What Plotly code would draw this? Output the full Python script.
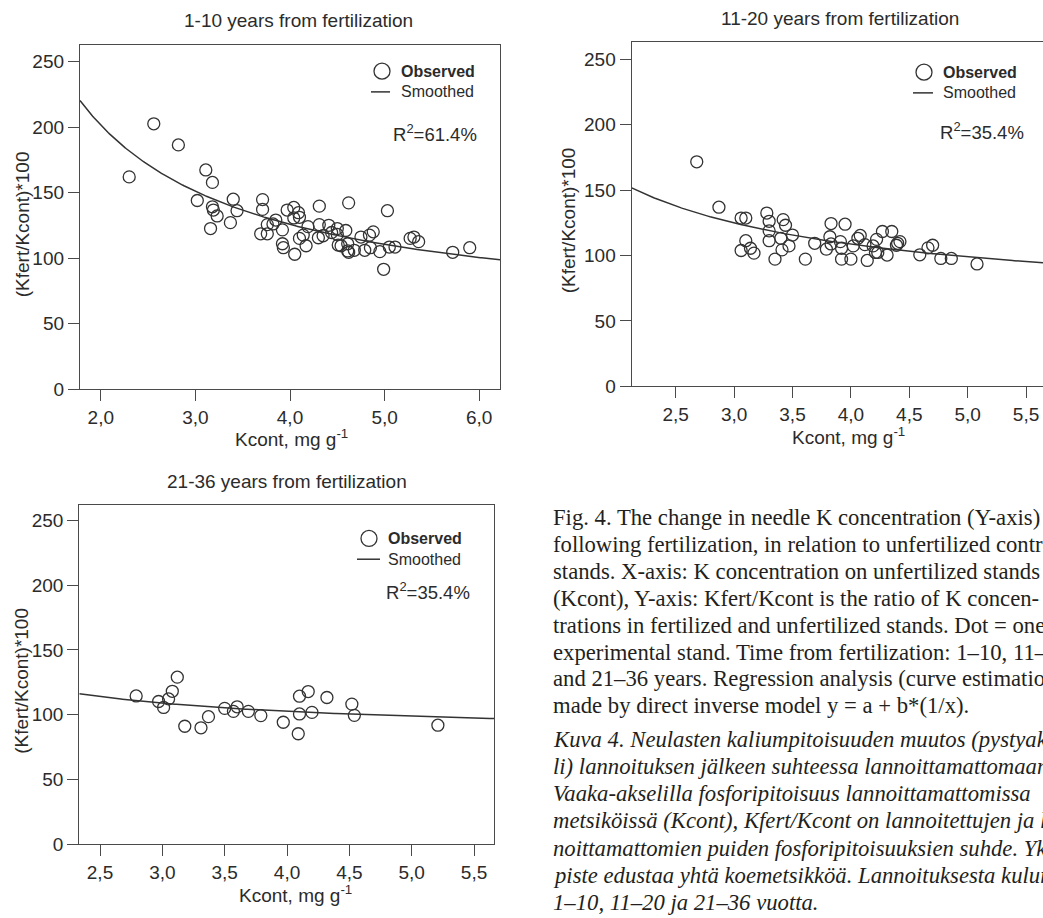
import numpy as np
import plotly.graph_objects as go

# ---------------- data ----------------
titles = ["1-10 years from fertilization", "11-20 years from fertilization", "21-36 years from fertilization"]
r2_labels = ["R<sup>2</sup>=61.4%", "R<sup>2</sup>=35.4%", "R<sup>2</sup>=35.4%"]

p1_x = [2.30, 2.56, 2.82, 3.11, 3.18, 3.02, 3.18, 3.19, 3.23, 3.16, 3.40, 3.44, 3.37,
        3.71, 3.71, 3.69, 3.76, 3.76, 3.85, 3.82, 3.92, 3.92, 3.93, 3.97, 4.04, 4.09,
        4.04, 4.10, 4.05, 4.19, 4.14, 4.10, 4.17, 4.31, 4.31, 4.30, 4.35, 4.41, 4.44,
        4.50, 4.50, 4.59, 4.62, 4.51, 4.54, 4.61, 4.61, 4.62, 4.68, 4.75, 4.79, 4.84,
        4.88, 4.85, 4.95, 4.99, 5.03, 5.05, 5.11, 5.27, 5.31, 5.36, 5.72, 5.90]
p1_y = [162, 202.5, 186.4, 167.3, 157.8, 144, 139.2, 136.7, 132.2, 122.6, 145, 136.2, 127.1,
        144.7, 137.2, 118.6, 125.6, 118.6, 129.1, 126.1, 121.6, 111, 108, 136.7, 138.7, 134.7,
        130.7, 131.2, 103, 124.1, 117.6, 115.1, 109.5, 139.7, 125.6, 115.6, 117.1, 125.1, 119.6,
        122.6, 118.1, 121.1, 142.2, 110, 109.5, 111, 105.5, 104.5, 106, 116.1, 106, 117.6,
        120.1, 108, 105, 91.5, 136.2, 108.5, 108.5, 115.1, 116.1, 112.6, 104.5, 108]

p2_x = [2.68, 2.87, 3.06, 3.10, 3.10, 3.06, 3.14, 3.17, 3.28, 3.30, 3.30, 3.30, 3.42,
        3.44, 3.40, 3.41, 3.47, 3.50, 3.35, 3.61, 3.69, 3.83, 3.95, 3.82, 3.79, 3.83,
        3.91, 3.92, 3.92, 4.00, 4.02, 4.06, 4.08, 4.12, 4.14, 4.19, 4.22, 4.21, 4.23,
        4.27, 4.35, 4.31, 4.39, 4.40, 4.42, 4.59, 4.66, 4.70, 4.77, 4.86, 5.08]
p2_y = [171.6, 136.9, 128.6, 128.6, 111.3, 103.8, 105.5, 101.8, 132.4, 126.1, 118.8, 111.3, 127.4,
        123.1, 113.1, 104.3, 107.3, 115.6, 97.2, 97.2, 109.3, 124.4, 123.9, 114.3, 104.8, 108.8,
        110.6, 105.5, 97.2, 97.2, 107.3, 113.1, 115.3, 108.3, 96.2, 107.3, 112.3, 102.3, 102.3,
        118.3, 118.3, 100.3, 107.8, 109.3, 110.6, 100.5, 105.8, 107.8, 97.7, 97.7, 93.5]

p3_x = [2.79, 2.97, 3.05, 3.08, 3.12, 3.01, 3.18, 3.31, 3.37, 3.50, 3.57, 3.60,
        3.69, 3.79, 3.97, 4.09, 4.10, 4.17, 4.10, 4.20, 4.32, 4.52, 4.54, 5.21]
p3_y = [114.4, 110.1, 112.1, 118.0, 128.9, 105.5, 91.0, 89.8, 98.4, 104.8, 102.5, 106.0,
        102.5, 99.2, 94.1, 85.2, 114.2, 117.8, 100.5, 101.7, 113.2, 108.1, 99.4, 91.8]

# inverse model y = a + b*(1/x), coefficients
fit_a = [50.0, 60.0, 83.5]
fit_b = [303.0, 194.5, 76.0]

x_tickvals = [[2, 3, 4, 5, 6], [2.5, 3, 3.5, 4, 4.5, 5, 5.5], [2.5, 3, 3.5, 4, 4.5, 5, 5.5]]
x_ticktext = [["2,0", "3,0", "4,0", "5,0", "6,0"],
              ["2,5", "3,0", "3,5", "4,0", "4,5", "5,0", "5,5"],
              ["2,5", "3,0", "3,5", "4,0", "4,5", "5,0", "5,5"]]
y_tickvals = [0, 50, 100, 150, 200, 250]

caption_en = [
    "Fig. 4. The change in needle K concentration (Y-axis)",
    "following fertilization, in relation to unfertilized control",
    "stands. X-axis: K concentration on unfertilized stands",
    "(Kcont), Y-axis: Kfert/Kcont is the ratio of K concen-",
    "trations in fertilized and unfertilized stands. Dot = one",
    "experimental stand. Time from fertilization: 1\u201310, 11\u201320",
    "and 21\u201336 years. Regression analysis (curve estimation)",
    "made by direct inverse model y = a + b*(1/x).",
]
caption_fi = [
    "Kuva 4. Neulasten kaliumpitoisuuden muutos (pystyakse-",
    "li) lannoituksen j\u00e4lkeen suhteessa lannoittamattomaan.",
    "Vaaka-akselilla fosforipitoisuus lannoittamattomissa",
    "metsik\u00f6iss\u00e4 (Kcont), Kfert/Kcont on lannoitettujen ja lan-",
    "noittamattomien puiden fosforipitoisuuksien suhde. Yksi",
    "piste edustaa yht\u00e4 koemetsikk\u00f6\u00e4. Lannoituksesta kulunut",
    "1\u201310, 11\u201320 ja 21\u201336 vuotta.",
]

# ---------------- layout geometry (pixels) ----------------
W, H = 1043, 918
panels = [
    dict(x0=80, x1=500, y0=45.7, y1=394, xr=[1.78, 6.22], yr=[0, 262.5], ymirror=True),
    dict(x0=631.7, x1=1043, y0=42.3, y1=391, xr=[2.123, 5.645], yr=[0, 263.3], ymirror=False),
    dict(x0=79.3, x1=494, y0=510.7, y1=854.3, xr=[2.334, 5.66], yr=[0, 262.2], ymirror=True),
]
title_pos = [(298, 21), (840, 19), (287, 487)]
ytitle_pos = [(22, 227), (568, 223), (22, 689)]
xtitle_pos = [(291, 443), (848, 441), (295, 905)]
legend_pos = [  # circle centre, text left, obs y, smooth y, line x0,x1, r2 left, r2 y
    dict(cx=382, tx=399, oy=72, sy=93, lx0=371, lx1=390, rx=391, ry=135),
    dict(cx=924, tx=941, oy=73, sy=94, lx0=913, lx1=933, rx=938, ry=133),
    dict(cx=369, tx=386, oy=545, sy=566, lx0=357, lx1=380, rx=384, ry=598),
]

def px(x):
    return x / W

def py(y):
    return 1 - y / H

AX = "#4a4a4a"
TXT = "#2b2b2b"
FONT = "Liberation Sans"

fig = go.Figure()
xs = [p1_x, p2_x, p3_x]
ys = [p1_y, p2_y, p3_y]

annotations = []
shapes = []
for i, p in enumerate(panels):
    n = "" if i == 0 else str(i + 1)
    xa, ya = "x" + n, "y" + n
    fig.add_trace(go.Scatter(
        x=xs[i], y=ys[i], mode="markers", xaxis=xa, yaxis=ya, name="Observed",
        marker=dict(symbol="circle-open", size=12, color="#333333", line=dict(width=1.3)),
        showlegend=False))
    xx = np.linspace(p["xr"][0], p["xr"][1], 300)
    fig.add_trace(go.Scatter(
        x=xx, y=fit_a[i] + fit_b[i] / xx, mode="lines", xaxis=xa, yaxis=ya, name="Smoothed",
        line=dict(color="#333333", width=1.5), showlegend=False))

    common = dict(showline=True, linecolor=AX, linewidth=1.3, ticks="outside", ticklen=11,
                  tickcolor=AX, tickwidth=1.3, showgrid=False, zeroline=False,
                  ticklabeloverflow="allow",
                  tickfont=dict(family=FONT, size=19, color=TXT))
    fig.layout["xaxis" + n] = dict(domain=[px(p["x0"]), px(p["x1"])], range=p["xr"],
                                   anchor=ya, mirror=True,
                                   tickvals=x_tickvals[i], ticktext=x_ticktext[i], **common)
    fig.layout["yaxis" + n] = dict(domain=[py(p["y1"]), py(p["y0"])], range=p["yr"],
                                   anchor=xa, mirror=p["ymirror"],
                                   tickvals=y_tickvals, **common)

    # titles
    tx, ty = title_pos[i]
    annotations.append(dict(x=px(tx), y=py(ty), xref="paper", yref="paper", text=titles[i],
                            showarrow=False, xanchor="center", yanchor="middle",
                            font=dict(family=FONT, size=19, color=TXT)))
    yx, yy = ytitle_pos[i]
    annotations.append(dict(x=px(yx), y=py(yy), xref="paper", yref="paper", text="(Kfert/Kcont)*100",
                            showarrow=False, textangle=-90, xanchor="center", yanchor="middle",
                            font=dict(family=FONT, size=19, color=TXT)))
    xtx, xty = xtitle_pos[i]
    annotations.append(dict(x=px(xtx), y=py(xty), xref="paper", yref="paper",
                            text="Kcont, mg g<sup>-1</sup>",
                            showarrow=False, xanchor="center", yanchor="middle",
                            font=dict(family=FONT, size=19, color=TXT)))
    # legend box content
    L = legend_pos[i]
    shapes.append(dict(type="circle", xref="paper", yref="paper", xsizemode="pixel", ysizemode="pixel",
                       xanchor=px(L["cx"]), yanchor=py(L["oy"]), x0=-8, x1=8, y0=-8, y1=8,
                       line=dict(color="#333333", width=1.3)))
    shapes.append(dict(type="line", xref="paper", yref="paper", x0=px(L["lx0"]), x1=px(L["lx1"]),
                       y0=py(L["sy"]), y1=py(L["sy"]), line=dict(color="#333333", width=1.5)))
    annotations.append(dict(x=px(L["tx"]), y=py(L["oy"]), xref="paper", yref="paper",
                            text="<b>Observed</b>", showarrow=False, xanchor="left", yanchor="middle",
                            font=dict(family=FONT, size=16, color=TXT)))
    annotations.append(dict(x=px(L["tx"]), y=py(L["sy"]), xref="paper", yref="paper",
                            text="Smoothed", showarrow=False, xanchor="left", yanchor="middle",
                            font=dict(family=FONT, size=16, color=TXT)))
    annotations.append(dict(x=px(L["rx"]), y=py(L["ry"]), xref="paper", yref="paper",
                            text=r2_labels[i], showarrow=False, xanchor="left", yanchor="middle",
                            font=dict(family=FONT, size=18.5, color=TXT)))

# caption text (right column)
CAP_X = 551
for k, line in enumerate(caption_en):
    annotations.append(dict(x=px(CAP_X), y=py(524 + 27.2 * k), xref="paper", yref="paper",
                            text=line, showarrow=False, xanchor="left", yanchor="middle",
                            font=dict(family="Liberation Serif", size=22.7, color="#231f20")))
for k, line in enumerate(caption_fi):
    annotations.append(dict(x=px(CAP_X), y=py(748 + 27.6 * k), xref="paper", yref="paper",
                            text="<i>" + line + "</i>", showarrow=False, xanchor="left", yanchor="middle",
                            font=dict(family="Liberation Serif", size=22.7, color="#231f20")))

fig.update_layout(width=W, height=H, margin=dict(l=0, r=0, t=0, b=0),
                  paper_bgcolor="white", plot_bgcolor="white",
                  annotations=annotations, shapes=shapes, showlegend=False)

fig.write_html("out.html", config={"displayModeBar": False},
               post_script="document.body.style.margin='0px';document.body.style.overflow='hidden';")
